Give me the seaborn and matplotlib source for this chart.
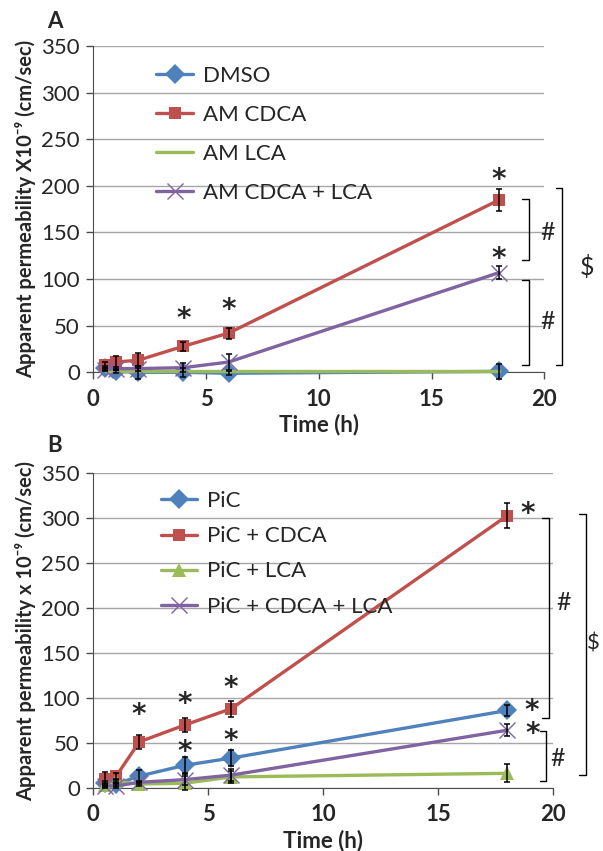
import matplotlib
matplotlib.use("Agg")
import numpy as np
import pandas as pd
import matplotlib.pyplot as plt
import seaborn as sns

# time points (h)
time_h = [0.5, 1, 2, 4, 6, 18]

# panel A
a_labels = ["DMSO", "AM CDCA", "AM LCA", "AM CDCA + LCA"]
a_dmso = [5, 1, 0, 0, -1, 1]
a_dmso_err = [2, 2, 7, 5, 2, 8]
a_cdca = [8, 11, 13, 28, 42, 185]
a_cdca_err = [3, 7, 8, 5, 6, 12]
a_lca = [1, 1, 1, 1, 1, 1]
a_lca_err = [0, 0, 0, 0, 0, 0]
a_combo = [3, 4, 4, 5, 11, 107]
a_combo_err = [2, 2, 3, 5, 9, 7]

# panel B
b_labels = ["PiC", "PiC + CDCA", "PiC + LCA", "PiC + CDCA + LCA"]
b_pic = [5, 4, 13, 25, 33, 86]
b_pic_err = [3, 2, 7, 9, 9, 6]
b_cdca = [10, 13, 51, 70, 88, 303]
b_cdca_err = [7, 3, 8, 8, 9, 14]
b_lca = [3, 7, 4, 5, 12, 16]
b_lca_err = [2, 2, 2, 8, 7, 10]
b_combo = [2, 2, 6, 9, 14, 64]
b_combo_err = [2, 2, 2, 6, 7, 7]

COLORS = ["#4F81BD", "#C0504D", "#9BBB59", "#8064A2"]

sns.set_style("white")
plt.rcParams['font.family'] = ['Lato', 'DejaVu Sans']
plt.rcParams['mathtext.fontset'] = 'dejavusans'

fig = plt.figure(figsize=(6.03, 8.51), dpi=100)
ax_a = fig.add_axes([0.1547, 0.5625, 0.748, 0.3834])
ax_b = fig.add_axes([0.1547, 0.0744, 0.763, 0.3694])


def draw_panel(ax, labels, series, errors, markers, msizes):
    for i, (lab, vals) in enumerate(zip(labels, series)):
        df = pd.DataFrame({"t": time_h, "v": vals})
        sns.lineplot(data=df, x="t", y="v", ax=ax, color=COLORS[i], lw=2.4,
                     marker=markers[i], markersize=msizes[i],
                     markeredgecolor=COLORS[i],
                     markeredgewidth=1 if markers[i] == "x" else 0,
                     label=lab, clip_on=False, zorder=3 + i)
    for vals, err in zip(series, errors):
        if max(err) == 0:
            continue
        ax.errorbar(time_h, vals, yerr=err, fmt="none", ecolor="black",
                    elinewidth=1.1, capsize=2.5, capthick=1.1, clip_on=False, zorder=10)

    ax.set_xlim(0, 20)
    ax.set_ylim(0, 350)
    ax.set_xticks([0, 5, 10, 15, 20])
    ax.set_yticks(range(0, 351, 50))
    ax.yaxis.grid(True, color="#a6a6a6", lw=1)
    ax.set_axisbelow(True)
    for s in ["top", "right"]:
        ax.spines[s].set_visible(False)
    ax.spines["left"].set_color("#4d4d4d")
    ax.spines["bottom"].set_color("#4d4d4d")
    ax.tick_params(axis="both", direction="out", length=5, width=1,
                   color="#4d4d4d", labelsize=16, bottom=True, left=True)
    ax.tick_params(axis="x", pad=7)
    ax.tick_params(axis="y", pad=4.7)
    for t in ax.get_xticklabels():
        t.set_fontweight("bold")
    ax.set_xlabel("Time (h)", fontsize=16, fontweight="bold", labelpad=3)


draw_panel(ax_a, a_labels, [a_dmso, a_cdca, a_lca, a_combo],
           [a_dmso_err, a_cdca_err, a_lca_err, a_combo_err],
           ["D", "s", None, "x"], [10, 8, 0, 11])
draw_panel(ax_b, b_labels, [b_pic, b_cdca, b_lca, b_combo],
           [b_pic_err, b_cdca_err, b_lca_err, b_combo_err],
           ["D", "s", "^", "x"], [10, 8, 10, 11])

ax_a.set_ylabel("Apparent permeability X10⁻⁹ (cm/sec)", fontsize=14.5,
                fontweight="bold", labelpad=4)
ax_b.set_ylabel("Apparent permeability x 10⁻⁹ (cm/sec)", fontsize=14.5,
                fontweight="bold", labelpad=4)

for ax, anchor, sp in [(ax_a, (0.14, 0.939), 0.85), (ax_b, (0.1465, 0.943), 0.68)]:
    ax.legend(loc="upper left", bbox_to_anchor=anchor, frameon=False,
              fontsize=16, handlelength=1.65, handletextpad=0.45,
              labelspacing=sp, borderaxespad=0, borderpad=0)

fig.text(47 / 603, 1 - 21 / 851, "A", fontsize=16, fontweight="bold", va="center")
fig.text(47 / 603, 1 - 445 / 851, "B", fontsize=16, fontweight="bold", va="center")

star = dict(fontsize=20, ha="center", va="center", clip_on=False)
sym = dict(fontsize=18, ha="center", va="center", clip_on=False)
STAR = r"$\mathbf{*}$"


def bracket(ax, x, y0, y1, w=0.3):
    ax.plot([x - w, x, x, x - w], [y1, y1, y0, y0], color="black", lw=1,
            clip_on=False)


# panel A annotations
for x, y in [(4, 59), (6, 69), (18, 208), (18, 124)]:
    ax_a.text(x, y, STAR, **star)
bracket(ax_a, 19.3, 120, 186)
bracket(ax_a, 19.3, 8, 99)
bracket(ax_a, 20.8, 8, 198)
ax_a.text(20.15, 150, "#", **sym)
ax_a.text(20.15, 55, "#", **sym)
ax_a.text(21.9, 113, "$", **sym)

# panel B annotations
for x, y in [(2, 83), (4, 95), (6, 113), (4, 42), (6, 54),
             (18.9, 307), (19.07, 88), (19.1, 62)]:
    ax_b.text(x, y, STAR, **star)
bracket(ax_b, 19.8, 78, 300)
bracket(ax_b, 19.7, 7, 63)
bracket(ax_b, 21.4, 14, 305)
ax_b.text(20.45, 206, "#", **sym)
ax_b.text(20.2, 33, "#", **sym)
ax_b.text(21.72, 161, "$", fontsize=16, ha="center", va="center", clip_on=False)

fig.savefig("out.png", dpi=100)
